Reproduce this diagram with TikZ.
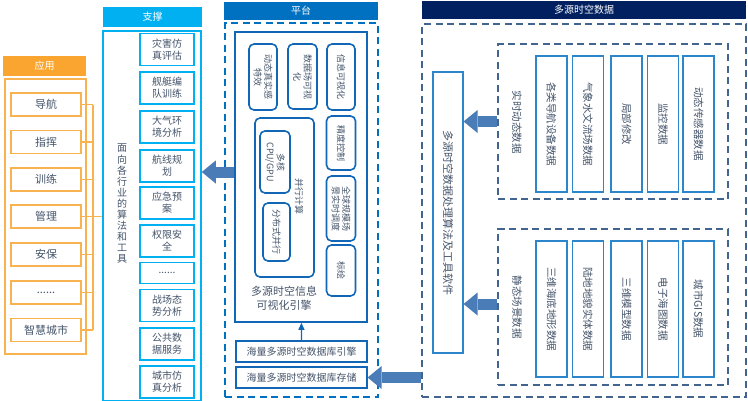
\documentclass[tikz,border=0pt]{standalone}
\usepackage{fontspec}
\setmainfont{Noto Sans CJK SC}
\usetikzlibrary{arrows.meta}
\definecolor{orangefonce}{HTML}{F9A52F}
\definecolor{orangeclair}{HTML}{F8B250}
\definecolor{cyanh}{HTML}{00B0F0}
\definecolor{bleuh}{HTML}{0070C0}
\definecolor{bleuplat}{HTML}{1167B6}
\definecolor{marine}{HTML}{002060}
\definecolor{ardoise}{HTML}{41658F}
\definecolor{bleudonnee}{HTML}{2C86CB}
\definecolor{flechebleu}{HTML}{4A7CB8}
\definecolor{texte}{HTML}{44546A}
\begin{document}
\begin{tikzpicture}[x=1pt,y=-1pt]
		\tikzstyle{entete}=[text=white, inner sep=0pt, font=\fontsize{10}{12}\selectfont]
		\tikzstyle{case_app}=[draw=orangeclair, line width=1.4pt, minimum width=70, minimum height=23, inner sep=0pt, text=texte, font=\fontsize{11}{13}\selectfont]
		\tikzstyle{case_sup}=[draw=cyanh, line width=1.4pt, minimum width=54, minimum height=32, inner sep=0pt, align=center, text=texte, font=\fontsize{10}{12}\selectfont]
		\tikzstyle{arrondi}=[draw=bleuplat, line width=1.6pt, rounded corners=5pt, rotate=-90, inner sep=0pt, align=center, text=texte, font=\fontsize{9}{10.5}\selectfont]
		\tikzstyle{base}=[draw=bleuplat, line width=1.2pt, minimum width=131, minimum height=21, inner sep=0pt, text=texte, font=\fontsize{10}{12}\selectfont]
		\tikzstyle{donnee}=[draw=bleudonnee, line width=1.1pt, rotate=-90, minimum width=136, minimum height=31, inner sep=0pt, text=texte, font=\fontsize{10.5}{12}\selectfont]
		\tikzstyle{vertical}=[rotate=-90, inner sep=0pt, align=center, text=texte]
		\tikzstyle{pointille}=[dash pattern=on 7pt off 4.5pt, line width=1.8pt, minimum width=0, inner sep=0pt]
		\tikzstyle{lien_orange}=[draw=orangeclair, line width=1.4pt]
		\tikzstyle{grosse_fleche}=[draw=flechebleu, line width=11pt, -{Triangle[width=23pt,length=14pt,line width=0pt]}]
		\tikzstyle{fine_fleche}=[draw=bleuplat, line width=1.2pt, -{Triangle[width=6pt,length=7pt]}]
		\useasboundingbox (0,0) rectangle (748,400);
		% application
		\node[entete, fill=orangefonce, minimum width=83, minimum height=20] (t_app) at (44.5,66) {应用};
		\node[draw=orangeclair, line width=1.5pt, minimum width=81, minimum height=275] (app) at (45.5,216.5) {};
		\node[case_app] (a1) at (46,104.5) {导航};
		\node[case_app] (a2) at (46,142) {指挥};
		\node[case_app] (a3) at (46,179.5) {训练};
		\node[case_app] (a4) at (46,216.5) {管理};
		\node[case_app] (a5) at (46,254.5) {安保};
		\node[case_app] (a6) at (46,292.5) {......};
		\node[case_app] (a7) at (46,330) {智慧城市};
		\coordinate (bus) at (93,0);
		% support
		\node[entete, fill=cyanh, minimum width=99, minimum height=20] (t_sup) at (152.5,17) {支撑};
		\node[draw=cyanh, line width=1.5pt, minimum width=98, minimum height=370] (support) at (152,216) {};
		\node[text=texte, align=center, inner sep=0pt, font=\fontsize{10}{11.1}\selectfont] (outils) at (122,204) {面\\向\\各\\行\\业\\的\\算\\法\\和\\工\\具};
		\node[case_sup] (s1) at (167,49.5) {灾害仿\\真评估};
		\node[case_sup] (s2) at (167,88) {舰艇编\\队训练};
		\node[case_sup] (s3) at (167,127) {大气环\\境分析};
		\node[case_sup] (s4) at (167,166) {航线规\\划};
		\node[case_sup] (s5) at (167,203) {应急预\\案};
		\node[case_sup] (s6) at (167,241) {权限安\\全};
		\node[case_sup, minimum height=21] (s7) at (167,273) {......};
		\node[case_sup] (s8) at (167,305.5) {战场态\\势分析};
		\node[case_sup] (s9) at (167,344) {公共数\\据服务};
		\node[case_sup] (s10) at (167,382) {城市仿\\真分析};
		% plateforme
		\node[entete, fill=bleuh, minimum width=154, minimum height=18] (t_plat) at (301,11) {平台};
		\node[pointille, draw=bleuh, minimum width=153, minimum height=374] (plateforme) at (301.5,210) {};
		\node[draw=bleuplat, line width=1.6pt, minimum width=132, minimum height=290] (moteur) at (301,177) {};
		\node[arrondi, minimum width=66, minimum height=28] (r1) at (263,77) {动态真实感\\特效};
		\node[arrondi, minimum width=65, minimum height=29] (r2) at (302.5,76.5) {数据场可视\\化};
		\node[arrondi, minimum width=66, minimum height=28] (r3) at (341,77) {信息可视化};
		\node[arrondi, minimum width=54, minimum height=29] (r4) at (341,143) {精度控制};
		\node[arrondi, minimum width=65, minimum height=29] (r5) at (341,208.5) {全球规模场\\景实时调度};
		\node[arrondi, minimum width=51, minimum height=29] (r6) at (341,270.5) {标绘};
		\node[arrondi, rotate=90, minimum width=59, minimum height=159] (calcul) at (284.5,197.5) {};
		\node[vertical, font=\fontsize{9}{10.5}\selectfont] (calcul_txt) at (299,196) {并行计算};
		\node[arrondi, minimum width=62, minimum height=30] (r7) at (275,162) {多核\\CPU/GPU};
		\node[arrondi, minimum width=58, minimum height=27] (r8) at (276.5,232) {分布式并行};
		\node[text=texte, align=center, inner sep=0pt, font=\fontsize{11}{13.5}\selectfont] (moteur_txt) at (284,298.5) {多源时空信息\\可视化引擎};
		\node[base] (moteur_bd) at (301.5,351.5) {海量多源时空数据库引擎};
		\node[base] (stock) at (301.5,377.5) {海量多源时空数据库存储};
		% donnees
		\node[entete, fill=marine, minimum width=324, minimum height=18] (t_src) at (584,10) {多源时空数据};
		\node[pointille, draw=ardoise, minimum width=324, minimum height=373] (donnees) at (584,210.5) {};
		\node[donnee, minimum width=281, minimum height=30, font=\fontsize{11}{13}\selectfont] (traitement) at (448,212.5) {多源时空数据处理算法及工具软件};
		\node[pointille, draw=ardoise, minimum width=230, minimum height=155] (temps_reel) at (613,121.5) {};
		\node[vertical, font=\fontsize{10.5}{12}\selectfont] (tr_txt) at (517,122) {实时动态数据};
		\node[donnee] (d1) at (551.5,124) {各类导航设备数据};
		\node[donnee] (d2) at (588,124) {气象水文流场数据};
		\node[donnee] (d3) at (626.5,124) {局部修改};
		\node[donnee] (d4) at (663,124) {监控数据};
		\node[donnee] (d5) at (698.5,124) {动态传感器数据};
		\node[pointille, draw=ardoise, minimum width=230, minimum height=156] (statique) at (613,307) {};
		\node[vertical, font=\fontsize{10.5}{12}\selectfont] (st_txt) at (517,307) {静态场景数据};
		\node[donnee] (e1) at (551.5,309) {三维海底地形数据};
		\node[donnee] (e2) at (588,309) {陆地地貌实体数据};
		\node[donnee] (e3) at (626.5,309) {三维模型数据};
		\node[donnee] (e4) at (663,309) {电子海图数据};
		\node[donnee] (e5) at (698.5,309) {城市GIS数据};
		% liens
		\foreach \i in {1,...,7}
			\draw[lien_orange] (a\i.east) -- (a\i.east -| bus);
		\draw[lien_orange] (a1.east -| bus) -- (a7.east -| bus);
		\draw[lien_orange] (a4.east -| bus) -- (a4.east -| support.west);
		\coordinate (depart) at ([yshift=5pt]moteur.west);
		\draw[grosse_fleche] (depart) -- (depart -| support.east);
		\draw[grosse_fleche] (stock.east -| donnees.west) -- (stock.east);
		\draw[grosse_fleche] (temps_reel.west) -- (temps_reel.west -| traitement.north); % vers la droite de la boite
		\draw[grosse_fleche] ([yshift=3pt]statique.west) -- ([yshift=3pt]statique.west -| traitement.north);
		\draw[fine_fleche] (moteur_bd) -- (moteur);
	\end{tikzpicture}
\end{document}
